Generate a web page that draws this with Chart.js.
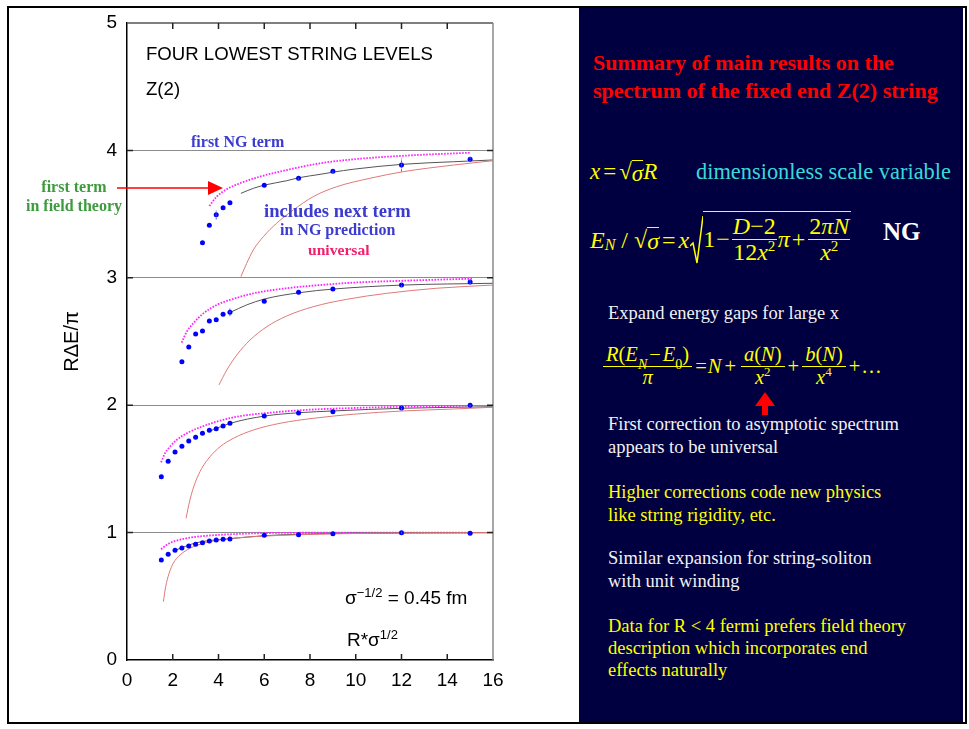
<!DOCTYPE html>
<html>
<head>
<meta charset="utf-8">
<script src="https://cdn.jsdelivr.net/npm/chart.js@4.4.0/dist/chart.umd.min.js"></script>
<style>
html, body { margin: 0; padding: 0; background: #fff; }
body { width: 969px; height: 729px; position: relative; overflow: hidden; font-family: "Liberation Sans", Arial, sans-serif; }
#frame { position: absolute; left: 7px; top: 6px; width: 956px; height: 714px; border: 2px solid #000; }
#panel { position: absolute; left: 579px; top: 8px; width: 384px; height: 714px; background: #000040; }
#wrap { position: absolute; left: 9px; top: 8px; width: 570px; height: 714px; }
.a { position: absolute; white-space: nowrap; line-height: 20px; }
.sans { font-family: "Liberation Sans", Arial, sans-serif; font-size: 19px; color: #000; }
.serif { font-family: "Liberation Serif", "Times New Roman", serif; font-weight: bold; }
.t { position: absolute; white-space: nowrap; font-family: "Liberation Serif", "Times New Roman", serif; font-size: 18.5px; line-height: 23px; }
.w { color: #f2f2f2; }
.y { color: #ffff00; }
.m { position: absolute; display: flex; align-items: center; white-space: nowrap; font-family: "Liberation Serif", "Times New Roman", serif; color: #ffff00; }
.m i { font-style: italic; }
.op { margin: 0 3px; }
.ov { border-top: 1.5px solid #ffff00; line-height: 1; padding-top: 1px; }
.fr { display: inline-flex; flex-direction: column; align-items: center; margin: 0 2px; line-height: 1.05; }
.fr > span:first-child { border-bottom: 1.5px solid #ffff00; padding: 0 3px; }
.fr.tight { margin: 0 1px; }
.fr.tight > span:first-child { padding: 0 1px; }
sup, sub { line-height: 0; }
</style>
</head>
<body>
<div id="frame"></div>
<div id="panel"></div>
<div id="wrap"><canvas id="c" width="570" height="714"></canvas></div>

<!-- chart annotations -->
<div class="a sans" style="left:146px;top:44px;font-size:18.6px">FOUR LOWEST STRING LEVELS</div>
<div class="a sans" style="left:146px;top:79px;font-size:18.6px">Z(2)</div>
<div class="a serif" style="left:191px;top:132px;font-size:16px;color:#3b3bd0">first NG term</div>
<div class="a serif" style="left:18px;top:177px;width:112px;text-align:center;font-size:16px;line-height:19px;color:#3d9b3d">first term<br>in field theory</div>
<svg style="position:absolute;left:0;top:0" width="260" height="260">
  <line x1="117" y1="188" x2="210" y2="188" stroke="#ff0000" stroke-width="1.5"/>
  <polygon points="208,181 223,188 208,195" fill="#ff0000"/>
</svg>
<div class="a serif" style="left:264px;top:201px;font-size:18.6px;color:#3b3bd0">includes next term</div>
<div class="a serif" style="left:280px;top:220px;font-size:16px;color:#3b3bd0">in NG prediction</div>
<div class="a serif" style="left:308px;top:240px;font-size:15.6px;color:#f0206a">universal</div>
<div class="a sans" style="left:345px;top:588px">σ<sup style="font-size:13px">−1/2</sup> = 0.45 fm</div>
<div class="a sans" style="left:347px;top:630px">R*σ<sup style="font-size:13px">1/2</sup></div>

<!-- right panel -->
<div class="t" style="left:593px;top:49px;font-size:22px;line-height:28px;font-weight:bold;color:#ff0000">Summary of main results on the<br>spectrum of the fixed end Z(2) string</div>

<div class="m" style="left:590px;top:158px;font-size:23px;height:28px"><i>x</i><span class="op">=</span>√<span class="ov"><i>σ</i></span><i>R</i></div>
<div class="t" style="left:696px;top:159px;font-size:22.4px;line-height:26px;color:#3ad8d8">dimensionless scale variable</div>

<div class="m" style="left:590px;top:212px;font-size:24px;height:56px">
  <i>E</i><sub style="font-size:16px;font-style:italic;position:relative;top:5px">N</sub>&nbsp;/&nbsp;√<span class="ov"><i>σ</i></span><span class="op">=</span><i>x</i>
  <svg width="13" height="50" style="margin-left:1px"><polyline points="0,31 3,28 7,48 13,1" fill="none" stroke="#ffff00" stroke-width="1.5"/></svg>
  <span style="display:inline-flex;align-items:center;border-top:1.5px solid #ffff00;margin-top:-4px;padding-top:2px">1<span class="op" style="margin:0 1px">−</span><span class="fr tight"><span><i>D</i>−2</span><span>12<i>x</i><sup style="font-size:15px">2</sup></span></span><i>π</i><span class="op" style="margin:0 2px">+</span><span class="fr tight"><span>2<i>πN</i></span><span><i>x</i><sup style="font-size:15px">2</sup></span></span></span>
</div>
<div class="t" style="left:883px;top:218px;font-size:25px;line-height:28px;font-weight:bold;color:#fff">NG</div>

<div class="t w" style="left:608px;top:301.5px">Expand energy gaps for large x</div>

<div class="m" style="left:603px;top:342px;font-size:20.5px;height:48px">
  <span class="fr" style="margin-left:0"><span><i>R</i>(<i>E</i><sub style="font-size:14px;position:relative;top:3px"><i>N</i></sub><span class="op" style="margin:0 2px">−</span><i>E</i><sub style="font-size:14px;position:relative;top:3px">0</sub>)</span><span><i>π</i></span></span><span class="op" style="margin:0 1px">=</span><i>N</i><span class="op">+</span><span class="fr"><span><i>a</i>(<i>N</i>)</span><span><i>x</i><sup style="font-size:13px">2</sup></span></span><span class="op" style="margin:0 1px">+</span><span class="fr"><span><i>b</i>(<i>N</i>)</span><span><i>x</i><sup style="font-size:13px">4</sup></span></span><span class="op" style="margin:0 1px">+</span>…
</div>
<svg style="position:absolute;left:754px;top:392px" width="22" height="24">
  <polygon points="11,0 21,14 14,14 14,23 8,23 8,14 1,14" fill="#ff0000"/>
</svg>

<div class="t w" style="left:608px;top:412.5px">First correction to asymptotic spectrum<br>appears to be universal</div>
<div class="t y" style="left:608px;top:480.5px">Higher corrections code new physics<br>like string rigidity, etc.</div>
<div class="t w" style="left:608px;top:546.5px">Similar expansion for string-soliton<br>with unit winding</div>
<div class="t y" style="left:608px;top:614.5px;line-height:22px">Data for R &lt; 4 fermi prefers field theory<br>description which incorporates end<br>effects naturally</div>

<script>
// ===== lattice data (R*sigma^1/2 and R dE / pi) =====
const xLevel1 = [1.5, 1.8, 2.1, 2.4, 2.7, 3.0, 3.3, 3.6, 3.9, 4.2, 4.5, 6, 7.5, 9, 12, 15];
const yLevel1 = [0.785, 0.830, 0.861, 0.879, 0.895, 0.908, 0.921, 0.934, 0.942, 0.947, 0.950, 0.979, 0.983, 0.991, 0.999, 0.994];
const eLevel1 = [0, 0, 0, 0, 0, 0, 0, 0, 0, 0, 0, 0, 0, 0, 0.008, 0];
const xLevel2 = [1.5, 1.8, 2.1, 2.4, 2.7, 3.0, 3.3, 3.6, 3.9, 4.2, 4.5, 6, 7.5, 9, 12, 15];
const yLevel2 = [1.439, 1.560, 1.633, 1.678, 1.719, 1.748, 1.779, 1.803, 1.816, 1.837, 1.858, 1.915, 1.939, 1.949, 1.978, 1.999];
const eLevel2 = [0, 0, 0, 0, 0, 0, 0, 0, 0, 0, 0, 0, 0, 0, 0.015, 0.01];
const xLevel3 = [2.4, 2.7, 3.0, 3.3, 3.6, 3.9, 4.2, 4.5, 6, 7.5, 9, 12, 15];
const yLevel3 = [2.342, 2.457, 2.559, 2.583, 2.661, 2.671, 2.714, 2.729, 2.816, 2.886, 2.912, 2.943, 2.967];
const eLevel3 = [0, 0, 0, 0, 0, 0, 0, 0.03, 0, 0, 0, 0.015, 0.02];
const xLevel4 = [3.3, 3.6, 3.9, 4.2, 4.5, 6, 7.5, 9, 12, 15];
const yLevel4 = [3.276, 3.412, 3.495, 3.550, 3.589, 3.726, 3.781, 3.836, 3.885, 3.930];
const eLevel4 = [0, 0, 0.037, 0, 0, 0, 0.012, 0.012, 0.05, 0.02];

// ===== magenta dotted curves (first term) =====
const xMag1 = [1.49, 1.73, 2.02, 2.46, 3.05, 3.92, 4.80, 6.26, 8.44, 9.9, 15.1];
const yMag1 = [0.869, 0.903, 0.929, 0.950, 0.968, 0.981, 0.989, 0.997, 0.999, 1.0, 1.0];
const xMag2 = [1.49, 1.66, 1.88, 2.17, 2.61, 3.19, 3.92, 4.80, 6.26, 7.71, 9.89, 12.08, 15.1];
const yMag2 = [1.552, 1.622, 1.674, 1.727, 1.779, 1.826, 1.871, 1.910, 1.941, 1.962, 1.978, 1.988, 1.996];
const xMag3 = [2.39, 2.61, 2.90, 3.34, 3.92, 4.50, 5.52, 6.98, 8.44, 9.89, 12.08, 15.1];
const yMag3 = [2.491, 2.577, 2.643, 2.721, 2.787, 2.826, 2.878, 2.918, 2.943, 2.962, 2.977, 2.993];
const xMag4 = [3.60, 3.92, 4.36, 4.94, 5.81, 6.98, 8.44, 9.89, 12.08, 14.99];
const yMag4 = [3.564, 3.637, 3.695, 3.742, 3.794, 3.846, 3.899, 3.930, 3.958, 3.982];

// ===== black curves (next NG term) =====
const xNext1 = [2.10, 3.05, 4.52, 6.02, 7.53, 9.89, 16];
const yNext1 = [0.861, 0.921, 0.952, 0.976, 0.987, 0.995, 0.999];
const xNext2 = [3.55, 4.52, 6.02, 7.53, 9.04, 12.05, 16];
const yNext2 = [1.792, 1.858, 1.915, 1.941, 1.955, 1.976, 1.988];
const xNext3 = [4.52, 5.23, 6.02, 7.53, 9.04, 12.05, 16];
const yNext3 = [2.729, 2.787, 2.834, 2.883, 2.912, 2.943, 2.957];
const xNext4 = [4.98, 5.52, 6.02, 6.98, 7.53, 8.44, 9.04, 9.89, 12.05, 14.27, 16];
const yNext4 = [3.663, 3.702, 3.728, 3.762, 3.786, 3.812, 3.830, 3.852, 3.891, 3.911, 3.925];

// ===== red curves (universal) =====
const xUni1 = [1.59, 1.69, 1.84, 2.02, 2.32, 2.75, 3.34, 4.21, 5.52, 7.71, 10.62, 14.27, 16];
const yUni1 = [0.458, 0.575, 0.680, 0.759, 0.824, 0.877, 0.916, 0.947, 0.968, 0.984, 0.995, 0.999, 1.0];
const xUni2 = [2.58, 2.75, 2.97, 3.27, 3.63, 4.07, 4.65, 5.52, 6.69, 8.14, 9.89, 12.08, 14.27, 16];
const yUni2 = [1.112, 1.256, 1.387, 1.505, 1.596, 1.674, 1.740, 1.805, 1.858, 1.897, 1.929, 1.955, 1.970, 1.984];
const xUni3 = [4.02, 4.36, 4.80, 5.38, 6.11, 6.98, 8.14, 9.60, 11.35, 13.54, 16];
const yUni3 = [2.159, 2.276, 2.394, 2.512, 2.616, 2.700, 2.773, 2.831, 2.878, 2.918, 2.943];
const xUni4 = [4.98, 5.23, 5.52, 5.96, 6.54, 7.27, 8.14, 9.17, 10.62, 12.08, 14.27, 16];
const yUni4 = [3.009, 3.113, 3.218, 3.323, 3.428, 3.532, 3.637, 3.715, 3.781, 3.833, 3.885, 3.919];

const xTicks = [0, 2, 4, 6, 8, 10, 12, 14, 16];
const yTicks = [0, 1, 2, 3, 4, 5];

function pts(xs, ys, es) {
    return xs.map((x, i) => ({x: x, y: ys[i], e: es ? es[i] : 0}));
}

function dots(xs, ys, es) {
    return {data: pts(xs, ys, es), showLine: false, pointRadius: 2.5, pointBackgroundColor: "#0000ff",
            pointBorderWidth: 0, order: 0, errorBars: true};
}

function curve(xs, ys, color, width, dash) {
    return {data: pts(xs, ys), showLine: true, pointRadius: 0, borderColor: color, borderWidth: width,
            borderDash: dash || [], cubicInterpolationMode: "monotone", fill: false, order: 1};
}

const datasets = [
    curve(xUni1, yUni1, "#e07878", 1), curve(xUni2, yUni2, "#e07878", 1),
    curve(xUni3, yUni3, "#e07878", 1), curve(xUni4, yUni4, "#e07878", 1),
    curve(xNext1, yNext1, "#555555", 1), curve(xNext2, yNext2, "#555555", 1),
    curve(xNext3, yNext3, "#555555", 1), curve(xNext4, yNext4, "#555555", 1),
    curve(xMag1, yMag1, "#ff22ff", 1.8, [1.6, 1.4]), curve(xMag2, yMag2, "#ff22ff", 1.8, [1.6, 1.4]),
    curve(xMag3, yMag3, "#ff22ff", 1.8, [1.6, 1.4]), curve(xMag4, yMag4, "#ff22ff", 1.8, [1.6, 1.4]),
    dots(xLevel1, yLevel1, eLevel1), dots(xLevel2, yLevel2, eLevel2),
    dots(xLevel3, yLevel3, eLevel3), dots(xLevel4, yLevel4, eLevel4)
];

// thin error bars on the lattice points
const errorPlugin = {
    id: "errors",
    afterDatasetsDraw(chart) {
        const {ctx, scales: {x, y}} = chart;
        ctx.save();
        ctx.strokeStyle = "#4455dd";
        ctx.lineWidth = 1;
        ctx.setLineDash([2, 1]);
        chart.data.datasets.forEach(ds => {
            if (!ds.errorBars) return;
            ds.data.forEach(p => {
                if (!p.e) return;
                const px = x.getPixelForValue(p.x);
                ctx.beginPath();
                ctx.moveTo(px, y.getPixelForValue(p.y - p.e));
                ctx.lineTo(px, y.getPixelForValue(p.y + p.e));
                ctx.stroke();
            });
        });
        ctx.restore();
    }
};

// frame on top/right + inward tick marks
const framePlugin = {
    id: "frame",
    afterDatasetsDraw(chart) {
        const {ctx, chartArea: a, scales: {x, y}} = chart;
        ctx.save();
        ctx.lineWidth = 1.5;
        ctx.strokeStyle = "#555";
        ctx.beginPath();
        ctx.moveTo(a.left, a.top);
        ctx.lineTo(a.right, a.top);
        ctx.stroke();
        ctx.strokeStyle = "#8a8a8a";
        ctx.beginPath();
        ctx.moveTo(a.right, a.top);
        ctx.lineTo(a.right, a.bottom);
        ctx.stroke();
        ctx.strokeStyle = "#222";
        ctx.beginPath();
        xTicks.slice(1, -1).forEach(v => {
            const px = x.getPixelForValue(v);
            ctx.moveTo(px, a.bottom); ctx.lineTo(px, a.bottom - 6);
            ctx.moveTo(px, a.top); ctx.lineTo(px, a.top + 6);
        });
        yTicks.slice(1, -1).forEach(v => {
            const py = y.getPixelForValue(v);
            ctx.moveTo(a.right, py); ctx.lineTo(a.right - 6, py);
            ctx.moveTo(a.left, py); ctx.lineTo(a.left + 6, py);
        });
        ctx.stroke();
        ctx.restore();
    }
};

const tickFont = {family: "Liberation Sans", size: 19};

new Chart(document.getElementById("c"), {
    type: "scatter",
    data: {datasets: datasets},
    plugins: [errorPlugin, framePlugin],
    options: {
        responsive: false,
        animation: false,
        layout: {padding: {top: 15, right: 86, bottom: 0, left: 0}},
        plugins: {legend: {display: false}, tooltip: {enabled: false}},
        scales: {
            x: {
                type: "linear", min: 0, max: 16,
                afterBuildTicks: s => { s.ticks = xTicks.map(v => ({value: v})); },
                ticks: {color: "#000", font: tickFont, padding: 9, maxRotation: 0},
                grid: {display: false, drawTicks: false},
                border: {color: "#000", width: 1.5},
                afterFit: s => { s.height = 62; s.paddingLeft = 0; s.paddingRight = 0; }
            },
            y: {
                type: "linear", min: 0, max: 5,
                afterBuildTicks: s => { s.ticks = yTicks.map(v => ({value: v})); },
                ticks: {color: "#000", font: tickFont, padding: 10},
                grid: {
                    drawTicks: false, lineWidth: 1,
                    color: c => (c.tick && c.tick.value > 0 && c.tick.value < 5) ? "#8c8c8c" : "rgba(0,0,0,0)"
                },
                border: {color: "#000", width: 1.5},
                title: {display: true, text: "RΔE/π", color: "#000", font: {family: "Liberation Sans", size: 20}, padding: {top: 51, bottom: 0}},
                afterFit: s => { s.width = 118; s.paddingTop = 0; s.paddingBottom = 0; }
            }
        }
    }
});
</script>
</body>
</html>
